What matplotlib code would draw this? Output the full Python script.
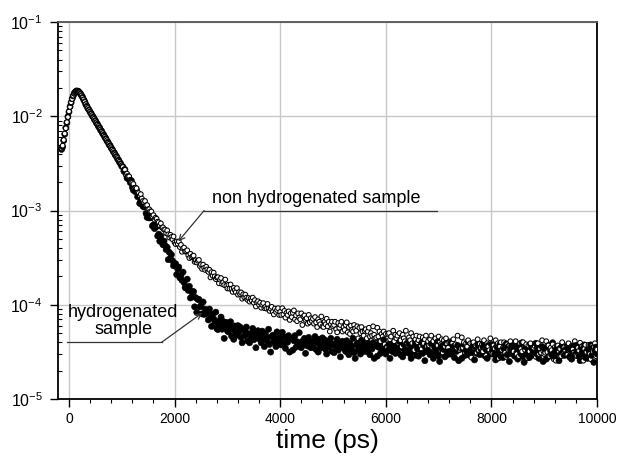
#!/usr/bin/env python3
# positron lifetime spectra, hydrogenated vs non hydrogenated sample

import numpy as np
import matplotlib.pyplot as plt
from matplotlib.ticker import FuncFormatter

plt.rcParams['font.family'] = ['Liberation Sans', 'DejaVu Sans']
plt.rcParams['mathtext.fontset'] = 'custom'
plt.rcParams['mathtext.rm'] = 'Liberation Sans'
plt.rcParams['mathtext.default'] = 'regular'

# time channels (ps): -140 ... 10000
t_start, t_step, n_chan = -140, 20, 508

# counts, in units of 1e-5
non_hyd = [
    # -140 .. 1000
    455, 488, 560, 655, 745, 865, 980, 1125, 1255, 1405, 1525, 1655, 1745, 1820, 1845, 1860, 1825, 1790, 1720, 1660,
    1575, 1505, 1415,
    1340, 1262, 1222, 1158, 1120, 1058, 1025, 970, 940, 888, 860, 812, 788, 745, 722, 682, 662, 624, 606, 572,
    556, 524, 509, 480, 467, 440, 428, 403, 392, 369, 359, 338, 329, 310, 301,
    # 1020 .. 2000
    289, 272, 270, 239, 246, 228, 230, 212, 199, 197, 191, 172, 175, 172, 155, 153, 144, 149, 134, 126,
    122, 126, 113, 114, 103, 103, 97.7, 97.6, 86.0, 89.3, 80.0, 83.8, 81.7, 76.1, 75.0, 69.4, 73.0, 65.8, 66.2, 62.6,
    62.8, 57.5, 61.4, 55.8, 51.7, 55.2, 52.3, 49.5, 53.0, 45.9,
    # 2020 .. 3000
    44.0, 46.8, 44.3, 46.9, 40.9, 43.2, 36.5, 39.7, 40.4, 36.7, 36.9, 37.8, 33.4, 31.3, 34.7, 31.9, 32.7, 33.2, 28.5, 29.6,
    28.1, 29.3, 29.9, 25.7, 26.8, 24.0, 26.6, 24.6, 23.4, 25.3, 23.7, 22.3, 23.5, 19.5, 22.2, 20.3, 21.9, 20.0, 18.7, 19.5,
    19.6, 16.9, 18.5, 19.2, 16.6, 17.3, 16.2, 18.5, 15.9, 14.9,
    # 3020 .. 10000
    16.3, 14.8, 16.4, 14.8, 13.7, 15.1, 14.3, 13.6, 15.0, 12.8, 13.6, 13.0, 13.5, 11.6, 12.9, 12.0, 12.8, 11.9, 11.3, 11.8,
    10.8, 11.6, 11.1, 11.9, 10.5, 11.2, 9.6, 10.6, 10.9, 10.0, 10.5, 9.3, 10.0, 10.4, 9.2, 9.5, 9.1, 10.2, 9.1, 8.6,
    9.1, 9.5, 8.4, 7.9, 9.1, 8.4, 8.8, 9.2, 7.8, 8.4, 7.8, 9.2, 7.9, 8.6, 7.3, 8.2, 7.8, 8.5, 6.9, 8.1,
    7.4, 8.2, 8.7, 7.0, 7.7, 6.7, 8.1, 7.3, 7.0, 8.1, 6.1, 7.5, 7.7, 6.9, 7.2, 6.3, 7.8, 6.5, 7.2, 6.7,
    7.1, 6.3, 7.4, 6.5, 5.8, 7.0, 6.6, 6.2, 7.5, 5.9, 5.8, 6.6, 6.2, 7.1, 5.9, 6.6, 5.2, 6.2, 6.6, 5.9,
    6.1, 6.6, 5.5, 5.1, 6.4, 5.7, 6.1, 6.6, 5.2, 5.8, 5.4, 6.1, 6.5, 5.1, 5.8, 4.9, 6.0, 5.4, 5.2, 6.1,
    5.6, 5.3, 5.9, 4.4, 5.7, 5.0, 5.8, 5.2, 4.7, 5.3, 5.5, 4.4, 5.2, 5.7, 4.6, 5.0, 4.7, 5.9, 4.8, 4.4,
    4.5, 5.7, 4.6, 5.2, 4.1, 4.9, 4.6, 5.2, 3.8, 4.9, 3.5, 4.9, 5.0, 4.3, 4.6, 3.9, 5.3, 4.1, 4.8, 4.4,
    4.7, 3.9, 5.0, 4.2, 3.6, 4.8, 4.4, 4.1, 5.3, 3.8, 3.7, 4.5, 4.2, 5.0, 3.9, 4.6, 3.3, 4.3, 4.7, 4.0,
    4.2, 4.6, 3.7, 3.4, 4.5, 3.9, 4.3, 4.7, 3.6, 4.1, 3.7, 4.3, 4.7, 3.5, 4.1, 3.3, 4.4, 3.9, 3.7, 4.6,
    4.0, 3.8, 4.3, 3.1, 4.2, 3.6, 4.4, 3.85, 3.5, 4.0, 4.1, 3.1, 3.9, 4.3, 3.4, 3.8, 3.5, 4.7, 3.6, 3.3,
    3.4, 4.5, 3.5, 4.0, 3.1, 3.9, 3.6, 4.2, 2.9, 3.9, 2.75, 3.9, 4.0, 3.45, 3.7, 3.1, 4.3, 3.3, 3.85, 3.5,
    3.8, 3.2, 4.2, 3.4, 2.9, 3.9, 3.6, 3.3, 4.4, 3.1, 3.0, 3.7, 3.45, 4.2, 3.2, 3.9, 2.7, 3.6, 4.0, 3.3,
    3.5, 4.0, 3.1, 2.8, 3.8, 3.3, 3.7, 4.1, 3.0, 3.5, 3.2, 3.8, 4.1, 3.0, 3.55, 2.85, 3.9, 3.4, 3.2, 4.0,
    3.55, 3.3, 3.8, 2.7, 3.7, 3.2, 3.9, 3.4, 3.1, 3.5, 3.65, 2.8, 3.5, 3.9, 3.0, 3.4, 3.1, 4.2, 3.25, 3.0,
    3.1, 4.1, 3.15, 3.7, 2.85, 3.5, 3.3, 3.8, 2.65, 3.55, 2.55, 3.6, 3.7, 3.2, 3.4, 2.85, 4.0, 3.0, 3.55, 3.25,
    3.55, 2.95, 3.9, 3.2, 2.7, 3.65, 3.35, 3.1, 4.1, 2.9, 2.85, 3.5, 3.25, 3.95, 3.05, 3.65, 2.55, 3.4, 3.75, 3.15,
    3.4, 3.75, 3.0, 2.65, 3.65, 3.2, 3.55, 3.9, 2.85, 3.35,
]

hyd = [
    # -140 .. 1000
    445, 475, 552, 645, 752, 855, 990, 1115, 1265, 1395, 1535, 1645, 1755, 1810, 1855, 1850, 1835, 1780, 1730, 1650,
    1585, 1495, 1425,
    1330, 1278, 1208, 1168, 1106, 1072, 1012, 982, 928, 900, 850, 824, 778, 756, 713, 692, 652, 634, 598, 580,
    547, 531, 501, 487, 459, 446, 420, 409, 385, 375, 353, 343, 323, 314, 295,
    # 1020 .. 2000
    291, 261, 272, 243, 220, 230, 214, 198, 208, 176, 164, 171, 158, 164, 140, 144, 119, 126, 126, 111,
    109, 110, 93, 84.5, 94, 83.4, 83.8, 84, 68.6, 70.3, 64.3, 67.1, 67.7, 53.6, 56.1, 47.2, 53.6, 47.2, 43.3, 47.3,
    42.6, 38.5, 40.7, 30.1, 36.0, 30.8, 34.0, 29.3, 25.9, 27.3,
    # 2020 .. 3000
    27.2, 20.9, 23.9, 25.1, 19.3, 20.5, 18.2, 22.2, 17.2, 15.2, 15.0, 18.7, 14.2, 15.7, 11.8, 13.9, 12.5, 13.8, 9.5, 11.9,
    8.3, 11.4, 11.4, 9.5, 9.8, 8.0, 10.7, 7.9, 8.95, 8.0, 8.6, 6.9, 9.0, 7.2, 5.9, 7.95, 7.1, 6.3, 8.35, 5.6,
    5.45, 6.75, 6.15, 7.4, 5.5, 6.65, 4.4, 5.9, 6.5, 5.3,
    # 3020 .. 10000
    5.15, 6.0, 6.6, 4.65, 5.5, 4.3, 5.95, 5.1, 4.75, 6.0, 5.2, 5.8, 4.5, 3.95, 5.5, 4.7, 5.25, 5.8, 4.15, 4.85,
    3.95, 4.95, 4.6, 5.6, 4.25, 5.2, 3.5, 4.75, 5.3, 4.35, 4.8, 3.95, 5.25, 4.3, 3.6, 4.9, 4.5, 4.1, 5.5, 3.8,
    3.15, 4.6, 4.75, 4.05, 4.4, 3.6, 5.15, 3.8, 4.5, 4.15, 3.75, 5.1, 3.85, 4.55, 3.45, 4.35, 4.0, 4.7, 3.15, 4.4,
    4.35, 3.3, 4.15, 4.7, 3.55, 4.05, 3.7, 5.05, 3.85, 3.5, 4.1, 3.8, 4.4, 3.05, 4.25, 3.65, 4.5, 3.9, 3.5, 4.05,
    3.55, 4.15, 4.6, 3.35, 3.95, 3.15, 4.3, 3.75, 3.5, 4.45, 3.8, 4.25, 3.35, 3.0, 4.1, 3.6, 4.0, 4.4, 3.2, 3.75,
    3.1, 3.85, 3.6, 4.3, 3.3, 4.0, 2.8, 3.7, 4.1, 3.45, 3.85, 3.2, 4.15, 3.45, 2.95, 3.9, 3.6, 3.3, 4.4, 3.1,
    2.7, 3.75, 3.9, 3.35, 3.6, 3.0, 4.2, 3.2, 3.75, 3.45, 3.2, 4.2, 3.25, 3.8, 2.95, 3.65, 3.4, 3.95, 2.7, 3.7,
    3.7, 2.85, 3.55, 3.95, 3.05, 3.45, 3.2, 4.25, 3.3, 3.0, 3.55, 3.3, 3.8, 2.7, 3.65, 3.2, 3.85, 3.4, 3.05, 3.5,
    3.15, 3.7, 4.05, 2.95, 3.5, 2.8, 3.8, 3.3, 3.1, 3.9, 3.4, 3.8, 3.0, 2.7, 3.7, 3.2, 3.6, 3.95, 2.9, 3.4,
    2.85, 3.5, 3.3, 3.95, 3.05, 3.7, 2.55, 3.4, 3.75, 3.15, 3.55, 2.95, 3.85, 3.2, 2.7, 3.6, 3.35, 3.05, 4.05, 2.85,
    2.5, 3.5, 3.65, 3.15, 3.35, 2.8, 3.9, 2.95, 3.5, 3.2, 3.0, 4.0, 3.1, 3.6, 2.75, 3.45, 3.2, 3.7, 2.55, 3.5,
    3.55, 2.7, 3.4, 3.8, 2.9, 3.3, 3.05, 4.05, 3.15, 2.9, 3.4, 3.2, 3.65, 2.6, 3.55, 3.05, 3.75, 3.25, 2.95, 3.4,
    3.05, 3.55, 3.9, 2.85, 3.35, 2.7, 3.7, 3.2, 3.0, 3.8, 3.3, 3.7, 2.95, 2.6, 3.6, 3.1, 3.45, 3.8, 2.8, 3.3,
    2.75, 3.4, 3.2, 3.85, 2.95, 3.6, 2.5, 3.3, 3.65, 3.05, 3.45, 2.85, 3.75, 3.1, 2.65, 3.55, 3.25, 3.0, 3.95, 2.8,
    2.45, 3.45, 3.55, 3.05, 3.3, 2.75, 3.8, 2.9, 3.4, 3.15, 2.95, 3.9, 3.0, 3.5, 2.7, 3.35, 3.1, 3.6, 2.5, 3.4,
    3.45, 2.65, 3.3, 3.7, 2.85, 3.25, 2.95, 3.95, 3.05, 2.8, 3.35, 3.1, 3.55, 2.55, 3.45, 3.0, 3.65, 3.2, 2.9, 3.3,
    3.0, 3.45, 3.8, 2.8, 3.3, 2.65, 3.6, 3.1, 2.95, 3.7, 3.25, 3.6, 2.85, 2.55, 3.5, 3.05, 3.4, 3.75, 2.75, 3.2,
    2.7, 3.35, 3.1, 3.75, 2.9, 3.5, 2.45, 3.25, 3.55, 3.0,
]

t = t_start + t_step * np.arange(n_chan)
non_hyd = np.array(non_hyd) * 1e-5
hyd = np.array(hyd) * 1e-5

fig = plt.figure(figsize=(6.32, 4.58), dpi=100)
ax = fig.add_axes([58/632, 1-399/458, 539/632, 377/458])

# draw both spectra channel by channel so the points interleave like in the original
xs = np.column_stack([t, t]).ravel()
ys = np.column_stack([hyd, non_hyd]).ravel()
face = np.tile([[0, 0, 0, 1], [1, 1, 1, 1]], (n_chan, 1))
size = np.tile([19.5, 11.5], n_chan)
lw = np.tile([0.4, 0.75], n_chan)
ax.scatter(xs, ys, s=size, c=face, edgecolors='black', linewidths=lw, zorder=3)

ax.set_yscale('log')
ax.set_xlim(-208, 10000)
ax.set_ylim(1e-5, 1e-1)
ax.set_xticks(np.arange(0, 10001, 2000))
ax.set_xticks(np.arange(0, 10001, 400), minor=True)
ax.yaxis.set_major_formatter(FuncFormatter(lambda v, p: r'$10^{%d}$' % round(np.log10(v))))
ax.grid(True, which='major', color='#c8c8c8', lw=1.0)
ax.set_axisbelow(True)

ax.tick_params(which='major', direction='out', length=6, width=1, labelsize=10, colors='black')
ax.tick_params(axis='y', which='major', labelsize=11.5, pad=5)
ax.tick_params(axis='y', which='minor', direction='in', length=3, width=0.8)
ax.tick_params(axis='x', which='minor', direction='out', length=3, width=0.8)
for s in ['left', 'bottom', 'right']:
    ax.spines[s].set_linewidth(1.3)
ax.spines['top'].set_color('#555555')
ax.spines['top'].set_linewidth(1.3)

ax.set_xlabel('time (ps)', fontsize=19, labelpad=2)

# annotations
ax.text(2710, 1.1e-3, 'non hydrogenated sample', fontsize=13, ha='left', va='bottom')
ax.plot([2560, 6970], [1e-3, 1e-3], color='#333333', lw=0.9, zorder=5)
ax.annotate('', xy=(2070, 4.7e-4), xytext=(2560, 1e-3),
            arrowprops=dict(arrowstyle='->', color='#333333', lw=0.9, shrinkA=0, shrinkB=0), zorder=5)

ax.text(1030, 4.45e-5, 'hydrogenated\nsample', fontsize=13, ha='center', va='bottom', linespacing=1.0)
ax.plot([-44, 1756], [4e-5, 4e-5], color='#333333', lw=0.9, zorder=5)
ax.annotate('', xy=(2525, 8.2e-5), xytext=(1756, 4e-5),
            arrowprops=dict(arrowstyle='->', color='#333333', lw=0.9, shrinkA=0, shrinkB=0), zorder=5)

plt.savefig('out.png', dpi=100)
